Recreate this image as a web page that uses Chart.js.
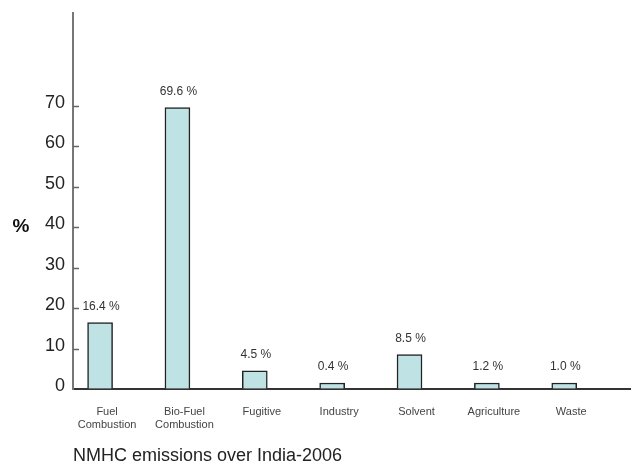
<!DOCTYPE html>
<html>
<head>
<meta charset="utf-8">
<script src="https://cdn.jsdelivr.net/npm/chart.js@4.4.0/dist/chart.umd.min.js"></script>
<style>
  html, body { margin: 0; padding: 0; background: #fff; }
</style>
</head>
<body>
<canvas id="nmhcChart" width="633" height="464"></canvas>
<script>
const categories = [['Fuel', 'Combustion'], ['Bio-Fuel', 'Combustion'], 'Fugitive', 'Industry', 'Solvent', 'Agriculture', 'Waste'];
const shares = [16.4, 69.6, 4.5, 0.4, 8.5, 1.2, 1.0];
const shareLabels = ['16.4 %', '69.6 %', '4.5 %', '0.4 %', '8.5 %', '1.2 %', '1.0 %'];
const yTicks = [0, 10, 20, 30, 40, 50, 60, 70];

const FONT = "'Liberation Sans', Arial, sans-serif";

// labels over the bars, the bold % sign and the inner tick marks
const extras = {
    id: 'extras',
    afterDatasetsDraw(chart) {
        const ctx = chart.ctx;
        const y = chart.scales.y;
        const meta = chart.getDatasetMeta(0);
        ctx.save();
        ctx.fillStyle = '#333';
        ctx.font = '12px ' + FONT;
        ctx.textAlign = 'center';
        ctx.textBaseline = 'middle';
        meta.data.forEach((bar, i) => {
            ctx.fillText(shareLabels[i], bar.x + 1, bar.y - 16);
        });

        ctx.strokeStyle = '#666';
        ctx.lineWidth = 1.5;
        yTicks.forEach(v => {
            if (v === 0) return;
            const py = Math.round(y.getPixelForValue(v)) + 0.5;
            ctx.beginPath();
            ctx.moveTo(y.right, py);
            ctx.lineTo(y.right + 6, py);
            ctx.stroke();
        });

        ctx.fillStyle = '#111';
        ctx.font = 'bold 19px ' + FONT;
        ctx.fillText('%', 21, y.getPixelForValue(40) - 1);
        ctx.restore();
    }
};

const ctx = document.getElementById('nmhcChart').getContext('2d');
const nmhcChart = new Chart(ctx, {
    type: 'bar',
    data: {
        datasets: [{
            data: shares.map((v, i) => ({ x: i, y: v })),
            backgroundColor: '#bfe2e4',
            borderColor: '#222',
            borderWidth: 1.5,
            borderSkipped: 'bottom',
            barThickness: 25,
            minBarLength: 6
        }]
    },
    options: {
        responsive: false,
        animation: false,
        layout: { padding: { top: 13, right: 3, left: 0, bottom: 0 } },
        plugins: {
            legend: { display: false },
            tooltip: { enabled: false },
            title: {
                display: true,
                text: 'NMHC emissions over India-2006',
                position: 'bottom',
                align: 'start',
                fullSize: false,
                color: '#222',
                font: { family: FONT, size: 18, weight: 'normal', lineHeight: '16px' },
                padding: { top: 10, bottom: 0 }
            }
        },
        scales: {
            x: {
                type: 'linear',
                offset: false,
                min: -0.35,
                max: 6.85,
                afterBuildTicks: s => { s.ticks = categories.map((c, i) => ({ value: i })); },
                afterFit: s => { s.height = 49; s.paddingLeft = 0; s.paddingRight = 0; },
                grid: { display: true, drawOnChartArea: false, drawTicks: false },
                border: { color: '#333', width: 2 },
                ticks: {
                    callback: v => categories[v],
                    color: '#444',
                    font: { family: FONT, size: 11 },
                    padding: 16,
                    labelOffset: 7,
                    maxRotation: 0,
                    autoSkip: false
                }
            },
            y: {
                min: 0,
                max: 93,
                afterBuildTicks: s => { s.ticks = yTicks.map(v => ({ value: v })); },
                afterFit: s => { s.width = 73; s.paddingTop = 0; s.paddingBottom = 0; },
                grid: { display: true, drawOnChartArea: false, drawTicks: false },
                border: { color: '#777', width: 2 },
                ticks: {
                    color: '#222',
                    font: { family: FONT, size: 18 },
                    padding: 8,
                    labelOffset: -3
                }
            }
        }
    },
    plugins: [extras]
});
</script>
</body>
</html>
